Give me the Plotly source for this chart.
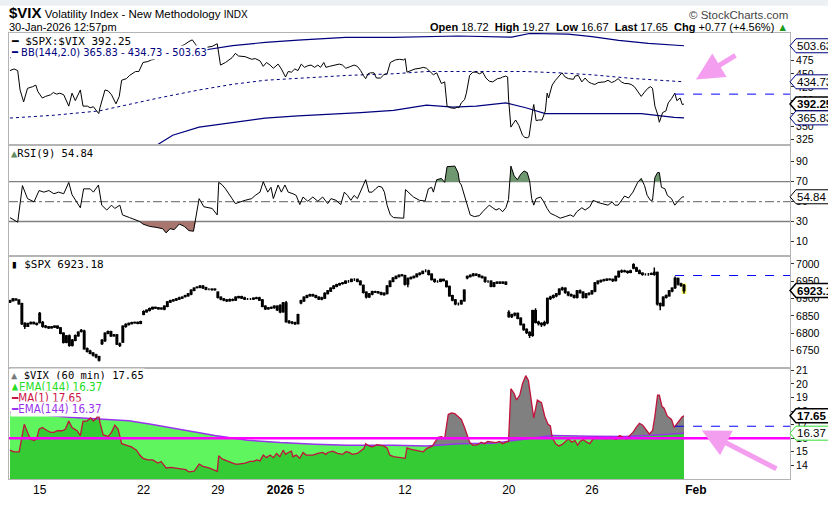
import plotly.graph_objects as go
from plotly.subplots import make_subplots

# one step = one 60 min bar, trading hours only (11-Dec-2025 .. 30-Jan-2026 12:57pm)
day_starts = [0, 3, 10, 17, 24, 31, 38, 45, 52, 59, 63, 70, 77, 84, 91, 98, 105,
              112, 119, 126, 133, 140, 147, 154, 161, 168, 175, 182, 189, 196,
              203, 210, 217, 224]
tick_pos = [10, 45, 70, 91, 98, 133, 168, 196, 231]
tick_text = ["15", "22", "29", "<b>2026</b>", "5", "12", "20", "26", "<b>Feb</b>"]

# $SPX:$VIX ratio (bar position, value)
ratio_t = [0, 1.4, 2.6, 3.4, 4.6, 5.9, 7.6, 8.7, 9.4, 10.9, 12, 13.7, 14.6, 15.7, 16.8, 18.1,
           19.8, 20.9, 22, 23.7, 24.6, 26.1, 27, 28.1, 29.2, 29.9, 30.3, 32, 33.1, 34.2, 35.7,
           36.8, 37.6, 39.2, 40.3, 42.3, 43.4, 44.8, 46.4, 47.6, 48.7, 49.8, 51.4, 53.7, 55.9,
           57, 58.7, 60.3, 61.4, 62.6, 63.7, 65, 66.4, 68.1, 69.8, 70.3, 70.9, 72.6, 74.8, 75.9,
           77, 79.2, 81.4, 82.6, 84.2, 85.3, 86.4, 87.6, 88.7, 90.3, 91.4, 92.8, 93.7, 94.8,
           95.9, 97, 98.1, 99.2, 100.3, 101.4, 102.6, 103.7, 104.6, 105.7, 106.4, 107.6, 109.2,
           110.9, 112, 113.1, 114.8, 115.9, 117, 118.1, 119, 119.8, 120.6, 121.4, 122.6, 123.4,
           124.8, 125.9, 127, 128.1, 129.8, 131.2, 132.6, 133.1, 133.7, 134.8, 136.4, 138.1,
           139.2, 140.3, 141.7, 142.6, 143.7, 145.3, 146.4, 147.2, 148.3, 149.8, 150.6, 151.2,
           152, 153.1, 153.7, 154.8, 155.9, 157, 158.1, 159.2, 160.3, 161.4, 162.6, 164.2, 165.3,
           165.9, 167, 167.6, 167.9, 168.7, 169.4, 170.3, 171.4, 172.6, 173.4, 174.2, 174.8,
           175.7, 176.1, 176.4, 177.2, 178.1, 179.2, 180.3, 180.9, 181.4, 182, 182.6, 183.7,
           184.8, 185.9, 187, 188.1, 189.8, 190.3, 191.4, 192.6, 193.7, 194.8, 195.9, 197, 198.1,
           199.2, 200.3, 201.4, 202.6, 203.7, 204.8, 205.9, 207, 208.1, 209.2, 210.3, 211.4,
           212.6, 213.7, 214.8, 215.7, 216.4, 217.2, 218.1, 218.7, 219.2, 219.8, 220.9, 221.7,
           222.8, 223.9, 224.6, 225.7, 226.4, 227]
ratio_v = [456.2, 459.3, 456.2, 419.2, 396.4, 422.3, 425.4, 428.5, 416.1, 403.8, 406.9, 410,
           414.3, 411.2, 413, 410, 388.3, 413, 398.8, 419.2, 388.3, 388.3, 385.2, 387.1, 379.1,
           374.1, 385.2, 419.2, 417.3, 410, 392.7, 406.9, 437.7, 440.8, 447, 454.4, 454.4, 471.7,
           473.5, 476.6, 477.8, 482.8, 487.1, 493.3, 499.4, 502.5, 505.6, 511.8, 514.9, 505.6,
           490.2, 499.4, 501.3, 502.5, 507.5, 487.1, 466.7, 471.7, 480.9, 489, 484, 482.8, 477.8,
           479.1, 474.8, 464.3, 471.7, 466.7, 460.6, 468.6, 459.3, 443.9, 454.4, 453.2, 459.3,
           456.2, 468.6, 462.4, 465.5, 466.7, 462.4, 466.7, 462.4, 471.7, 462.4, 464.3, 466.7,
           468.6, 466.7, 460.6, 464.3, 466.7, 464.3, 456.2, 447, 440.8, 450.1, 451.9, 451.9, 442,
           442, 448.2, 450.1, 471.7, 476.6, 477.8, 476.6, 479.1, 453.2, 456.2, 459.3, 460.6,
           462.4, 460.6, 453.2, 448.2, 451.9, 431.5, 434.6, 388.3, 385.2, 384, 386.5, 385.2,
           394.5, 400.7, 413, 447, 453.2, 453.2, 450.1, 453.2, 442, 435.9, 434.6, 440.8, 442,
           443.9, 445.7, 443.9, 403.8, 348.2, 354.4, 361.8, 351.3, 332.8, 328.5, 327.8, 329.7,
           372.9, 382.2, 391.4, 360.6, 361.8, 361.8, 379.1, 413, 403.8, 416.1, 428.5, 437.7,
           443.9, 451.9, 443.9, 440.8, 439.6, 445.7, 447, 434.6, 442, 434.6, 431.5, 429.7, 433.4,
           434.6, 434.6, 437.7, 433.4, 435.9, 440.8, 434.6, 431.5, 431.5, 429.7, 425.4, 416.1,
           406.9, 414.9, 422.3, 425.4, 422.3, 388.3, 372.9, 357.5, 366.7, 376, 379.1, 394.5,
           402.5, 413, 398.8, 403.8, 391.4, 392.25]
ratio_prev = 411.2

# Bollinger Bands (144, 2.0)
bb_up_t = [0, 20, 40, 57, 65, 75, 86, 97, 113, 129, 151, 169, 175, 188, 196, 205, 215, 227]
bb_up_v = [480.9, 484, 487, 490, 495, 504, 510, 514.5, 519.5, 519.8, 522.3, 520, 527, 526,
           521, 514, 508, 503.63]
bb_mid_t = [0, 15, 30, 50, 63.7, 75, 85.9, 100, 113.7, 129.2, 140.3, 162.6, 173.7, 184.8,
            195.9, 210, 227]
bb_mid_v = [365.5, 371, 379.1, 403.8, 419.2, 430, 437.7, 443, 447, 450.1, 454.4, 454.4, 454.4,
            451.9, 448.2, 441, 434.73]
bb_lo_t = [47, 50.3, 54.8, 63.7, 74.8, 85.9, 97, 113.7, 118.1, 129.2, 140.3, 149.2, 157, 167,
           173.7, 180.3, 195.9, 212.6, 223.7, 227]
bb_lo_v = [305, 316.1, 332.8, 348.2, 357.5, 365.5, 369.8, 374.1, 376, 380.3, 390.2, 386.5,
           388.3, 394.5, 385.2, 374.1, 374.1, 374.1, 366.7, 365.83]

# RSI(9)
rsi_t = [0, 2.6, 4.2, 5.9, 8.1, 9.8, 11.4, 13.1, 14.8, 16.4, 18.1, 19.8, 20.9, 23.7, 24.8, 27,
         28.1, 29.8, 30.9, 32.6, 34.2, 35.3, 37, 37.9, 40.3, 43.7, 44.8, 47, 49.2, 51.4, 52.6,
         53.9, 55.3, 57, 58.7, 60.3, 61.8, 62.6, 63.7, 65.3, 68.1, 69.8, 70.3, 71.4, 72.6, 74.8,
         75.9, 79.2, 81.4, 82.6, 84.2, 85.3, 86.8, 87.9, 88.7, 90.3, 91.4, 92.6, 93.7, 95.3,
         96.4, 97.6, 98.7, 100.3, 102, 103.7, 105.3, 107, 108.1, 109.8, 111.4, 112.6, 113.7,
         114.8, 115.9, 117, 118.1, 119.8, 120.9, 122, 123.1, 124.2, 125.3, 126.1, 127, 128.1,
         129.2, 130.9, 132.6, 133.2, 134.2, 135.9, 137.9, 139.8, 140.9, 142, 142.6, 143.7, 145.3,
         146.4, 147.2, 148.7, 149.8, 150.9, 151.4, 152, 153.1, 154.2, 155, 156.4, 158.1, 159.2,
         160.3, 161.4, 162.6, 163.7, 164.8, 165.9, 167, 167.9, 168.7, 169.8, 170.9, 172, 173.1,
         174.2, 175, 175.7, 176.4, 177.2, 178.7, 179.8, 180.9, 182, 183.7, 185.3, 187, 188.7,
         189.8, 190.9, 192.6, 193.7, 195.3, 196.4, 198.1, 199.8, 201.4, 202.8, 203.7, 204.8,
         206.1, 207, 208.3, 209.8, 211.4, 212.6, 213.7, 214.6, 215.7, 216.4, 217.2, 218.1, 218.7,
         219.4, 220.6, 221.4, 222.8, 223.9, 224.8, 225.7, 226.4, 227]
rsi_v = [33.9, 29.3, 66.1, 53, 49.7, 61.1, 59.5, 61.1, 57.9, 59.5, 57.9, 69.3, 56.9, 43.8, 62.8,
         62.8, 59.5, 66.7, 46.4, 41.5, 46.4, 43.1, 46.4, 36.6, 33.9, 30, 27.4, 25.1, 24.1, 22.8,
         18.5, 22.8, 21.8, 27.4, 25.1, 20.8, 20.2, 33.3, 53, 44.8, 43.1, 36.6, 69.3, 67, 62.8,
         53, 48, 51.3, 53, 56.2, 59.5, 70, 59.5, 64.4, 53, 66.7, 59.5, 66.7, 59.5, 57.9, 56.2,
         47, 54.6, 50.3, 54.6, 50.3, 54.6, 48, 53, 51.3, 47, 59.5, 56.2, 51.3, 56.2, 53, 61.1,
         72, 59.5, 59.5, 62.8, 65.4, 64.4, 59.5, 46.4, 36.6, 33.9, 33.3, 33.3, 62.1, 59.5, 54.6,
         51.3, 50.6, 62.8, 64.4, 59.5, 72, 73.3, 69.3, 85.1, 85.7, 85.7, 79.2, 69.3, 66.7, 56.2,
         46.4, 36.6, 34.9, 35.9, 39.8, 43.1, 46.4, 43.8, 41.5, 43.1, 39.8, 43.8, 52.3, 85.7,
         75.9, 72, 77.5, 80.8, 79.2, 71, 53, 46.4, 53, 54.6, 49.7, 43.1, 38.2, 35.9, 33.3, 34.9,
         36.6, 34.9, 39.8, 43.8, 41.5, 44.8, 51.3, 49, 48, 46.4, 49.7, 46.4, 46.4, 52.3, 55.6,
         53.6, 59.5, 69.3, 73.3, 66.1, 56.2, 51.3, 51.3, 74.3, 79.2, 79.2, 64.4, 62.8, 56.2, 53,
         46.4, 49.7, 53, 54.6, 54.84]

# $SPX 60 min candles, one value per bar
spx_open = [6890, 6894, 6899,
            6896, 6885, 6828, 6820, 6828, 6831, 6828,
            6857, 6831, 6820, 6818, 6816, 6818, 6820,
            6815, 6800, 6774, 6792, 6765, 6780, 6793,
            6808, 6806, 6755, 6748, 6742, 6737, 6732,
            6770, 6779, 6800, 6804, 6793, 6795, 6769,
            6775, 6820, 6825, 6828, 6830, 6831, 6829,
            6855, 6862, 6866, 6871, 6874, 6873, 6871,
            6870, 6878, 6890, 6894, 6896, 6899, 6902,
            6906, 6908, 6913, 6924,
            6932, 6933, 6936, 6931, 6927, 6927, 6926,
            6918, 6904, 6899, 6896, 6894, 6897, 6896,
            6903, 6905, 6902, 6899, 6899, 6899, 6901,
            6902, 6896, 6878, 6871, 6873, 6874, 6878,
            6880, 6862, 6887, 6834, 6831, 6830, 6828,
            6888, 6894, 6904, 6908, 6911, 6908, 6904,
            6899, 6902, 6915, 6922, 6930, 6936, 6940,
            6944, 6945, 6950, 6950, 6955, 6955, 6950,
            6938, 6918, 6905, 6913, 6920, 6919, 6917,
            6912, 6915, 6936, 6950, 6959, 6964, 6967,
            6966, 6942, 6958, 6961, 6964, 6970, 6973,
            6980, 6980, 6970, 6955, 6950, 6950, 6955,
            6950, 6935, 6908, 6896, 6885, 6885, 6894,
            6960, 6964, 6967, 6970, 6968, 6964, 6961,
            6950, 6950, 6936, 6945, 6947, 6945, 6947,
            6860, 6848, 6853, 6857, 6843, 6825, 6811,
            6802, 6794, 6865, 6832, 6828, 6825, 6830,
            6900, 6904, 6908, 6913, 6927, 6930, 6918,
            6911, 6908, 6904, 6922, 6918, 6904, 6913,
            6915, 6922, 6945, 6950, 6952, 6954, 6956,
            6955, 6952, 6964, 6978, 6980, 6978, 6976,
            6998, 6988, 6980, 6973, 6970, 6970, 6970,
            6970, 6975, 6885, 6880, 6904, 6908, 6922,
            6932, 6958, 6942, 6938]
spx_high = [6897, 6902, 6901,
            6898, 6888, 6832, 6830, 6834, 6834, 6831,
            6861, 6835, 6824, 6821, 6821, 6823, 6823,
            6818, 6803, 6795, 6796, 6783, 6796, 6806,
            6812, 6810, 6759, 6752, 6746, 6741, 6735,
            6783, 6803, 6808, 6807, 6798, 6798, 6773,
            6823, 6829, 6831, 6833, 6834, 6834, 6836,
            6866, 6869, 6874, 6877, 6877, 6876, 6875,
            6881, 6893, 6897, 6899, 6902, 6905, 6907,
            6911, 6916, 6927, 6933,
            6936, 6939, 6939, 6934, 6930, 6930, 6930,
            6921, 6907, 6902, 6899, 6900, 6900, 6907,
            6908, 6908, 6905, 6902, 6902, 6904, 6905,
            6905, 6899, 6881, 6876, 6877, 6881, 6881,
            6884, 6890, 6893, 6838, 6835, 6833, 6856,
            6897, 6907, 6911, 6914, 6914, 6911, 6907,
            6905, 6918, 6925, 6933, 6939, 6943, 6946,
            6948, 6953, 6954, 6958, 6959, 6958, 6953,
            6941, 6921, 6916, 6923, 6923, 6922, 6920,
            6918, 6939, 6953, 6962, 6967, 6970, 6971,
            6969, 6961, 6964, 6967, 6973, 6976, 6981,
            6985, 6983, 6973, 6958, 6953, 6958, 6958,
            6953, 6938, 6911, 6899, 6889, 6897, 6927,
            6967, 6970, 6974, 6973, 6971, 6967, 6964,
            6953, 6953, 6948, 6950, 6950, 6950, 6950,
            6866, 6856, 6860, 6860, 6846, 6828, 6814,
            6806, 6868, 6872, 6836, 6832, 6836, 6903,
            6908, 6912, 6916, 6930, 6934, 6933, 6921,
            6915, 6912, 6925, 6926, 6921, 6916, 6918,
            6925, 6948, 6953, 6955, 6957, 6959, 6959,
            6958, 6967, 6981, 6984, 6983, 6981, 6983,
            7002, 6992, 6984, 6976, 6973, 6974, 6975,
            6990, 6978, 6889, 6907, 6912, 6925, 6933,
            6964, 6961, 6946, 6942]
spx_low = [6887, 6892, 6894,
           6882, 6824, 6812, 6818, 6825, 6825, 6822,
           6828, 6816, 6814, 6812, 6813, 6815, 6812,
           6797, 6770, 6771, 6761, 6762, 6777, 6790,
           6802, 6752, 6744, 6739, 6733, 6728, 6718,
           6766, 6775, 6797, 6789, 6790, 6766, 6760,
           6772, 6816, 6822, 6825, 6827, 6826, 6826,
           6852, 6859, 6863, 6868, 6870, 6868, 6868,
           6866, 6875, 6887, 6891, 6893, 6896, 6899,
           6903, 6905, 6910, 6921,
           6929, 6930, 6928, 6924, 6924, 6923, 6923,
           6900, 6895, 6892, 6890, 6891, 6892, 6893,
           6900, 6899, 6896, 6896, 6896, 6896, 6898,
           6893, 6875, 6867, 6868, 6870, 6871, 6864,
           6858, 6859, 6830, 6827, 6826, 6824, 6825,
           6884, 6890, 6901, 6905, 6905, 6901, 6896,
           6895, 6899, 6912, 6919, 6927, 6933, 6937,
           6940, 6942, 6946, 6947, 6951, 6947, 6938,
           6915, 6900, 6902, 6910, 6916, 6914, 6910,
           6908, 6912, 6933, 6947, 6956, 6961, 6964,
           6938, 6933, 6955, 6958, 6961, 6967, 6970,
           6976, 6967, 6952, 6946, 6946, 6947, 6949,
           6932, 6905, 6892, 6881, 6880, 6882, 6891,
           6956, 6961, 6964, 6965, 6961, 6958, 6946,
           6946, 6933, 6933, 6942, 6942, 6942, 6939,
           6845, 6844, 6849, 6840, 6822, 6807, 6798,
           6786, 6790, 6828, 6822, 6818, 6820, 6826,
           6896, 6900, 6904, 6910, 6923, 6914, 6907,
           6905, 6900, 6900, 6914, 6900, 6900, 6909,
           6911, 6918, 6941, 6946, 6949, 6951, 6952,
           6948, 6949, 6960, 6974, 6975, 6972, 6973,
           6985, 6977, 6970, 6966, 6967, 6966, 6968,
           6966, 6880, 6866, 6877, 6900, 6905, 6918,
           6928, 6938, 6934, 6915]
spx_close = [6894, 6899, 6896,
             6885, 6828, 6820, 6828, 6831, 6828, 6826,
             6831, 6820, 6818, 6816, 6818, 6820, 6816,
             6800, 6774, 6792, 6765, 6780, 6793, 6803,
             6806, 6755, 6748, 6742, 6737, 6732, 6723,
             6779, 6800, 6804, 6793, 6795, 6769, 6765,
             6820, 6825, 6828, 6830, 6831, 6829, 6833,
             6862, 6866, 6871, 6874, 6873, 6871, 6872,
             6878, 6890, 6894, 6896, 6899, 6902, 6904,
             6908, 6913, 6924, 6930,
             6933, 6936, 6931, 6927, 6927, 6926, 6927,
             6904, 6899, 6896, 6894, 6897, 6896, 6904,
             6905, 6902, 6899, 6899, 6899, 6901, 6902,
             6896, 6878, 6871, 6873, 6874, 6878, 6868,
             6862, 6887, 6834, 6831, 6830, 6828, 6853,
             6894, 6904, 6908, 6911, 6908, 6904, 6899,
             6902, 6915, 6922, 6930, 6936, 6940, 6943,
             6945, 6950, 6950, 6955, 6955, 6950, 6941,
             6918, 6905, 6913, 6920, 6919, 6917, 6913,
             6915, 6936, 6950, 6959, 6964, 6967, 6968,
             6942, 6958, 6961, 6964, 6970, 6973, 6978,
             6980, 6970, 6955, 6950, 6950, 6955, 6952,
             6935, 6908, 6896, 6885, 6885, 6894, 6924,
             6964, 6967, 6970, 6968, 6964, 6961, 6950,
             6950, 6936, 6945, 6947, 6945, 6947, 6942,
             6848, 6853, 6857, 6843, 6825, 6811, 6802,
             6794, 6865, 6832, 6828, 6825, 6830, 6900,
             6904, 6908, 6913, 6927, 6930, 6918, 6911,
             6908, 6904, 6922, 6918, 6904, 6913, 6915,
             6922, 6945, 6950, 6952, 6954, 6956, 6955,
             6952, 6964, 6978, 6980, 6978, 6976, 6980,
             6988, 6980, 6973, 6970, 6970, 6970, 6972,
             6975, 6885, 6880, 6904, 6908, 6922, 6930,
             6958, 6942, 6938, 6923.18]
spx_prev = 6966.6

# $VIX 60 min close
vix_t = [0, 1.4, 3.1, 3.7, 4.8, 5.7, 6.8, 8.1, 9, 9.8, 10.9, 12.6, 13.7, 14.8, 15.9, 17.6, 18.7,
         19.8, 20.9, 22.6, 23.7, 24.6, 25.9, 27.2, 28.1, 29.2, 29.8, 30.3, 31.4, 33.1, 34.2,
         35.3, 36.4, 37.6, 39.2, 40.9, 42.6, 43.7, 44.8, 46.4, 48.1, 49.8, 50.9, 52.6, 54.2,
         55.9, 57.6, 59.2, 60.3, 62, 63.7, 65, 67, 68.7, 69.8, 70.3, 71.4, 73.1, 74.8, 75.9, 77,
         79.2, 80.9, 82, 83.1, 84.2, 85.3, 86.4, 87.6, 88.7, 89.8, 90.9, 92, 92.8, 93.7, 94.8,
         95.3, 96.4, 97.6, 98.7, 99.8, 100.9, 102, 103.7, 105.3, 106.4, 107, 108.7, 110.3, 112,
         113.1, 114.2, 115.3, 117, 118.1, 119.2, 119.8, 120.9, 122, 123.7, 124.8, 125.9, 127,
         127.9, 129.2, 130.9, 132, 133.1, 133.7, 134.8, 136.4, 138.1, 139.2, 140.3, 141.4, 142.3,
         143.1, 144.2, 145.3, 146.4, 147.6, 148.7, 149.8, 150.9, 152, 153.1, 154.2, 154.8, 155.9,
         157.6, 158.7, 159.8, 160.9, 162.6, 163.7, 164.8, 165.9, 167, 167.9, 168.7, 169.8, 170.6,
         171.7, 172.6, 173.7, 174.6, 175.3, 176.4, 177.6, 179, 180.1, 181.2, 182, 182.6, 183.7,
         184.8, 185.9, 187, 188.1, 189.2, 190.3, 191.2, 192, 193.1, 194.2, 195.3, 196.4, 197.6,
         198.7, 199.8, 200.9, 202, 203.1, 204.2, 205.3, 206.4, 207.6, 208.7, 209.8, 210.9, 212,
         213.1, 214.2, 215.3, 216.4, 217.2, 218.1, 218.7, 219.6, 220.3, 221.4, 222.8, 223.7,
         224.8, 225.7, 226.4, 227]
vix_v = [15.12, 15, 15, 15.71, 17.02, 16.55, 15.95, 15.83, 15.95, 16.67, 16.79, 16.55, 16.43,
         16.43, 16.55, 16.55, 16.67, 17.26, 16.79, 16.55, 16.19, 17.26, 17.26, 17.5, 17.26,
         17.5, 17.86, 17.14, 16.24, 16.14, 16.43, 16.95, 16.67, 15.6, 15.48, 15.36, 15.12,
         14.76, 14.52, 14.4, 14.4, 14.17, 14.29, 13.81, 13.86, 13.81, 13.76, 13.69, 13.52, 13.57,
         14.1, 13.93, 13.81, 13.69, 13.57, 14.71, 14.48, 14.33, 14.17, 14.1, 14.1, 14.17, 14.29,
         14.29, 14.4, 14.33, 14.76, 14.57, 14.76, 14.57, 14.88, 14.64, 15.12, 14.81, 14.95,
         15.05, 14.64, 14.76, 14.52, 14.95, 14.76, 14.76, 14.76, 14.88, 14.95, 14.81, 14.95,
         15.05, 14.88, 14.81, 15, 14.95, 14.81, 14.88, 15.05, 15.24, 15.6, 15.43, 15.36, 15.52,
         15.48, 15.43, 15.29, 14.76, 14.64, 14.57, 14.57, 14.52, 15.29, 15.19, 15.12, 15.05, 15,
         15.24, 15.36, 15.43, 15.71, 16.07, 16.12, 16, 17.74, 17.86, 17.81, 17.62, 17.38, 16.79,
         16.07, 15.71, 15.48, 15.52, 15.71, 15.6, 15.76, 15.71, 15.67, 15.76, 15.6, 15.71, 15.76,
         19.64, 19.29, 18.81, 19.17, 20, 20.6, 20.24, 19.29, 17.5, 18.81, 18.62, 17.62, 17.02,
         16.9, 16.07, 15.6, 15.43, 15.52, 15.71, 15.95, 15.71, 15.83, 15.48, 15.76, 15.9, 15.71,
         15.6, 15.95, 16.07, 16, 16, 15.95, 16.07, 16, 15.9, 16.19, 16.07, 15.95, 16.19, 16.43,
         16.79, 17.1, 16.95, 16.62, 16.31, 16.55, 17.62, 19.17, 19.17, 18.33, 18.21, 17.62,
         17.38, 16.79, 17.14, 17.38, 17.57, 17.65]
vix_prev = 16.88

# EMA(144) of $VIX
ema_t = [0, 10, 20, 30, 40, 47, 58, 69, 80, 91, 102.6, 113.7, 129.2, 140.3, 151.4, 162.6,
         173.7, 182.6, 195.9, 207, 218.1, 223.7, 227]
ema_v = [17.9, 17.7, 17.55, 17.42, 17.28, 17.05, 16.6, 16.2, 15.85, 15.68, 15.56, 15.48, 15.48,
         15.43, 15.6, 15.62, 15.95, 16.19, 16.14, 16.12, 16.24, 16.31, 16.37]

vix_level = 16.0  # drawn horizontal line


def clip_fill(xs, ys, level, above):
    """Polygon of the part of a line that lies above (or below) a level."""
    px, py = [], []
    for k in range(len(xs)):
        if k > 0 and (ys[k - 1] - level) * (ys[k] - level) < 0:
            t = (level - ys[k - 1]) / (ys[k] - ys[k - 1])
            px.append(xs[k - 1] + t * (xs[k] - xs[k - 1]))
            py.append(level)
        px.append(xs[k])
        py.append(max(ys[k], level) if above else min(ys[k], level))
    return px + [xs[-1], xs[0]], py + [level, level]


NAVY = "#00007f"
x_max = 262.7
today = day_starts[-1]

fig = make_subplots(rows=4, cols=1, shared_xaxes=True, vertical_spacing=0)

# panel 1: ratio with bollinger bands
fig.add_trace(go.Scatter(x=bb_up_t, y=bb_up_v, mode="lines", line=dict(color=NAVY, width=1.2)), row=1, col=1)
fig.add_trace(go.Scatter(x=bb_mid_t, y=bb_mid_v, mode="lines", line=dict(color=NAVY, width=1, dash="dot")), row=1, col=1)
fig.add_trace(go.Scatter(x=bb_lo_t, y=bb_lo_v, mode="lines", line=dict(color=NAVY, width=1.2)), row=1, col=1)
fig.add_trace(go.Scatter(x=ratio_t, y=ratio_v, mode="lines", line=dict(color="black", width=1)), row=1, col=1)
fig.add_trace(go.Scatter(x=[today, x_max], y=[ratio_prev, ratio_prev], mode="lines",
                         line=dict(color="#0000ff", width=1, dash="dash")), row=1, col=1)

# panel 2: RSI
fx, fy = clip_fill(rsi_t, rsi_v, 70, True)
fig.add_trace(go.Scatter(x=fx, y=fy, mode="lines", fill="toself", fillcolor="#6f9870",
                         line=dict(width=0)), row=2, col=1)
fx, fy = clip_fill(rsi_t, rsi_v, 30, False)
fig.add_trace(go.Scatter(x=fx, y=fy, mode="lines", fill="toself", fillcolor="#a8766f",
                         line=dict(width=0)), row=2, col=1)
fig.add_trace(go.Scatter(x=rsi_t, y=rsi_v, mode="lines", line=dict(color="black", width=1)), row=2, col=1)

# panel 3: SPX candles
bars = list(range(len(spx_close)))
last = bars[-1]
fig.add_shape(type="rect", x0=last - 0.8, x1=last + 0.8, y0=spx_low[-1] - 2, y1=spx_high[-1] + 2,
              xref="x3", yref="y3", fillcolor="#ffff70", line=dict(width=0), layer="below")
fig.add_trace(go.Candlestick(x=bars, open=spx_open, high=spx_high, low=spx_low, close=spx_close,
                             increasing=dict(line=dict(color="black", width=1.5), fillcolor="white"),
                             decreasing=dict(line=dict(color="black", width=1.5), fillcolor="black"),
                             whiskerwidth=0, hoverinfo="skip"), row=3, col=1)
fig.add_trace(go.Scatter(x=[today, x_max], y=[spx_prev, spx_prev], mode="lines",
                         line=dict(color="#0000ff", width=1, dash="dash")), row=3, col=1)

# panel 4: VIX with EMA(144)
fig.add_trace(go.Scatter(x=vix_t, y=vix_v, mode="lines", fill="tozeroy", fillcolor="#808080",
                         line=dict(width=0)), row=4, col=1)
fig.add_trace(go.Scatter(x=ema_t, y=ema_v, mode="lines", fill="tozeroy",
                         fillcolor="rgba(15,240,15,0.67)", line=dict(width=0)), row=4, col=1)
fig.add_trace(go.Scatter(x=ema_t, y=ema_v, mode="lines", line=dict(color="#9933ee", width=1.5)), row=4, col=1)
fig.add_trace(go.Scatter(x=vix_t, y=vix_v, mode="lines", line=dict(color="#c0143c", width=1.3)), row=4, col=1)
fig.add_trace(go.Scatter(x=[today, x_max], y=[vix_prev, vix_prev], mode="lines",
                         line=dict(color="#0000ff", width=1, dash="dash")), row=4, col=1)
fig.add_shape(type="line", xref="x4 domain", x0=0, x1=1, yref="y4", y0=vix_level, y1=vix_level,
              line=dict(color="#ff00ff", width=2.5), layer="above")

# RSI guide lines
for lvl, dash in [(70, "solid"), (30, "solid"), (50, "dashdot")]:
    fig.add_shape(type="line", xref="x2 domain", x0=0, x1=1, yref="y2", y0=lvl, y1=lvl,
                  line=dict(color="#808080", width=1.3, dash=dash), layer="below")

# axes
fig.update_xaxes(range=[-0.33, x_max], showgrid=False, zeroline=False, showline=True,
                 linecolor="#b4b4b4", mirror=True, ticks="", tickvals=tick_pos,
                 ticktext=tick_text, showticklabels=False, rangeslider_visible=False)
fig.update_xaxes(showticklabels=True, tickfont=dict(size=12, color="black"), row=4, col=1)
fig.update_yaxes(side="right", showgrid=False, zeroline=False, showline=True, linecolor="#b4b4b4",
                 mirror=True, ticks="outside", ticklen=3, tickcolor="#333",
                 tickfont=dict(size=10.5, color="black"))
fig.update_yaxes(range=[315, 528], tickvals=[325, 350, 375, 400, 425, 450, 475, 500], row=1, col=1)
fig.update_yaxes(range=[-4.7, 107.4], tickvals=[10, 30, 50, 70, 90], row=2, col=1)
fig.update_yaxes(range=[6701, 7023], tickvals=[6750, 6800, 6850, 6900, 6950, 7000], row=3, col=1)
fig.update_yaxes(range=[13.0, 21.2], tickvals=[14, 15, 16, 17, 18, 19, 20, 21], row=4, col=1)

# value tags on the right axis
tags = [("y", 503.63, NAVY, False), ("y", 434.73, NAVY, False), ("y", 392.25, "black", True),
        ("y", 365.83, NAVY, False), ("y2", 54.84, "black", False), ("y3", 6923.18, "black", True),
        ("y4", 17.65, "black", True), ("y4", 16.37, "#33dd33", False)]
for ya, val, col, bold in tags:
    fig.add_shape(type="path", xref="paper", xsizemode="pixel", xanchor=1, yref=ya,
                  ysizemode="pixel", yanchor=val, path="M0,0 L6,-7 L60,-7 L60,7 L6,7 Z",
                  fillcolor="white", line=dict(color=col, width=1.5 if bold else 1), layer="above")
    txt = f"{val:.2f}"
    fig.add_annotation(x=1, xref="paper", xanchor="left", xshift=5, y=val, yref=ya,
                       text=f"<b>{txt}</b>" if bold else txt, showarrow=False,
                       font=dict(size=11.5, color="black"))

# panel legends
MONO = "DejaVu Sans Mono"
NARROW = "Liberation Sans Narrow, DejaVu Sans Condensed, Liberation Sans"
legends = [
    ("y", 1, "<span style='color:black'>━</span> $SPX:$VIX 392.25", MONO, 11, "black"),
    ("y", 12, "━ BB(144,2.0) 365.83 - 434.73 - 503.63", NARROW, 11, NAVY),
    ("y2", 1, "<span style='color:#5f8a5f'>▲</span>RSI(9) 54.84", MONO, 10.5, "black"),
    ("y3", 1, "▮ $SPX 6923.18", MONO, 11, "black"),
    ("y4", 0, "<span style='color:#777'>▲</span> $VIX (60 min) 17.65", MONO, 10.5, "black"),
    ("y4", 11, "▲EMA(144) 16.37", NARROW, 11.5, "#22dd22"),
    ("y4", 22, "━MA(1) 17.65", NARROW, 11.5, "#cc1144"),
    ("y4", 33, "━EMA(144) 16.37", NARROW, 11.5, "#9933ee"),
]
for ya, dy, txt, fam, size, col in legends:
    fig.add_annotation(x=0, xref="paper", xanchor="left", xshift=1, y=1, yref=f"{ya} domain",
                       yanchor="top", yshift=-dy, text=txt, showarrow=False, bgcolor="white",
                       borderpad=0, font=dict(family=fam, size=size, color=col))

# header
fig.add_shape(type="rect", xref="paper", yref="paper", x0=-0.02, x1=1.05, y0=1.061, y1=1.075,
              fillcolor="#edf0f3", line=dict(width=0), layer="below")
fig.add_annotation(x=-0.003, y=1.046, xref="paper", yref="paper", xanchor="left", yanchor="middle",
                   text="<b><span style='font-size:15px'>$VIX</span></b> Volatility Index - New Methodology"
                        " <span style='font-size:10px'>INDX</span>",
                   showarrow=False, font=dict(size=11.5, color="black"))
fig.add_annotation(x=-0.003, y=1.013, xref="paper", yref="paper", xanchor="left", yanchor="middle",
                   text="30-Jan-2026 12:57pm", showarrow=False, font=dict(size=11, color="black"))
fig.add_annotation(x=1, y=1.041, xref="paper", yref="paper", xanchor="right", yanchor="middle",
                   text="© StockCharts.com", showarrow=False, font=dict(size=11.5, color="#444"))
fig.add_annotation(x=1, y=1.013, xref="paper", yref="paper", xanchor="right", yanchor="middle",
                   text="<b>Open</b> 18.72  <b>High</b> 19.27  <b>Low</b> 16.67  <b>Last</b> 17.65  "
                        "<b>Chg</b> +0.77 (+4.56%) <span style='color:#1a9a1a'>▲</span>",
                   showarrow=False, font=dict(size=11, color="black"))

# pink hand-drawn arrows
for x, y, ax, ay in [(0.8796, 0.8957, 41, -25), (0.8872, 0.1087, 76, 39)]:
    fig.add_annotation(x=x, y=y, xref="paper", yref="paper", ax=ax, ay=ay, text="",
                       showarrow=True, arrowhead=2, arrowsize=1.1, arrowwidth=5,
                       arrowcolor="#f49ef0", standoff=0)

fig.update_layout(width=828, height=505, autosize=False, showlegend=False,
                  margin=dict(l=8, r=31, t=33, b=12),
                  plot_bgcolor="white", paper_bgcolor="white",
                  font=dict(family="Liberation Sans, Arial, sans-serif"))

fig.write_html("out.html", config={"displayModeBar": False},
               post_script="document.body.style.margin='0';"
                           "var d=document.getElementById('{plot_id}');"
                           "d.style.position='fixed';d.style.left='0';d.style.top='0';")
